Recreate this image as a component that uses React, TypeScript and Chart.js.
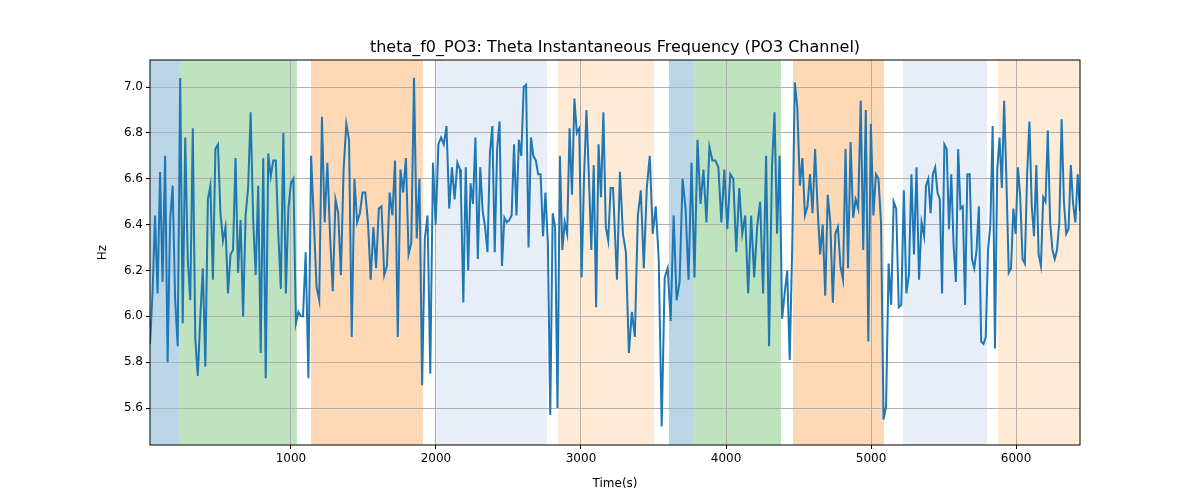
import React, { useEffect, useRef } from "react";
import { Chart, registerables } from "chart.js";
Chart.register(...registerables);

const seg1: number[] = [5.88,6.10,6.44,6.10,6.63,6.15,6.70,5.80,6.42,6.57,6.07,5.87,7.04,5.97,6.78,6.25,6.07,6.82,5.90,5.74,6.0,6.21,5.78,6.51,6.57,6.16,6.73,6.75,6.45,6.33,6.39,6.10,6.27,6.29,6.69,6.19,6.42,6.0,6.44,6.56,6.89,6.42,6.18,6.57,5.84,6.69,5.73,6.71,6.61,6.68,6.68,6.36,6.12,6.80,6.10,6.47,6.58,6.60,5.97,6.02,6.0];
const seg2: number[] = [6.0,6.28,5.73,6.70,6.42,6.13,6.07,6.87,6.41,6.67,6.35,6.11,6.51,6.45,6.18,6.64,6.84,6.77,5.91,6.60,6.41,6.45,6.54,6.54,6.41,6.16,6.39,6.21,6.47,6.48,6.18,6.22,6.54,6.44,6.68,5.91,6.64,6.54,6.69,6.27,6.32,7.04,6.34,6.60,5.70,6.34,6.44,5.75,6.67,6.40,6.75,6.78,6.75,6.83,6.47,6.65,6.51,6.67,6.64];
const seg3: number[] = [6.55,6.06,6.65,6.20,6.58,6.49,6.78,6.25,6.65,6.46,6.39,6.28,6.71,6.83,6.28,6.73,6.85,6.22,6.43,6.41,6.42,6.44,6.75,6.44,6.77,6.70,7.0,7.01,6.30,6.78,6.70,6.68,6.62,6.62,6.35,6.54,6.32,5.57,6.45,6.39,5.60,6.70,6.29,6.41,6.36,6.82,6.53,6.95,6.80,6.82,6.17,6.61,6.90,6.61,6.29,6.66,6.04,6.75,6.52,6.89,6.39,6.33,6.56,6.56];
const seg4: number[] = [6.16,6.63,6.36,6.28,5.84,6.02,5.91,6.44,6.55,6.21,6.56,6.70,6.36,6.48,6.25,5.52,6.17,6.21,5.98,6.44,6.07,6.15,6.60,6.47,6.16,6.67,6.17,6.77,6.49,6.64,6.41,6.74,6.68,6.68,6.65,6.41,6.64,6.38,6.62,6.60,6.28,6.56,6.36,6.44,6.10,6.44,6.17,6.39,6.50,6.10,6.70,5.87];
const seg5: number[] = [6.65,6.89,6.36,6.70,5.99,6.10,6.20,5.81,6.31,7.02,6.91,6.57,6.69,6.44,6.48,6.62,6.45,6.73,6.47,6.27,6.40,6.09,6.53,6.41,6.06,6.36,6.39,6.22,6.16,6.73,6.21,6.76,6.43,6.51,6.47,6.94,6.29,6.90,5.89,6.84,6.44,6.62,6.60,6.41,5.55,5.61,6.23,6.05,6.50,6.47,6.04,6.05,6.55,6.10,6.18,6.62,6.27,6.65,6.16,6.41,6.35];
const seg6: number[] = [6.57,6.60,6.45,6.62,6.65,6.54,6.51,6.10,6.75,6.73,6.38,6.62,6.31,6.15,6.73,6.47,6.48,6.05,6.62,6.62,6.25,6.21,6.29,6.48,5.89,5.88,5.91,6.29,6.40,6.83,5.86,6.64,6.78,6.56,6.94,6.59,6.19,6.21,6.47,6.36,6.65,6.52,6.25,6.23,6.62,6.85,6.48,6.35,6.66,6.27,6.22,6.52,6.50,6.81,6.41,6.29,6.25,6.29,6.41,6.86,6.50,6.36,6.38,6.66,6.49,6.41,6.62,6.46];
const segStart = [28, 1083, 2172, 3248, 4317, 5379];
const segEnd = [1069, 2166, 3221, 4297, 5366, 6441];
const segments = [seg1, seg2, seg3, seg4, seg5, seg6];

const bandStarts = [28, 228, 1138, 2000, 2841, 3607, 3772, 4462, 5221, 5876];
const bandEnds = [228, 1041, 1910, 2766, 3503, 3772, 4379, 5090, 5800, 6441];
const bandColors = [
  "rgba(31,119,180,0.3)", "rgba(44,160,44,0.3)", "rgba(255,127,14,0.3)", "rgba(174,199,232,0.3)", "rgba(255,187,120,0.3)",
  "rgba(31,119,180,0.3)", "rgba(44,160,44,0.3)", "rgba(255,127,14,0.3)", "rgba(174,199,232,0.3)", "rgba(255,187,120,0.3)",
];
const xTicks = [1000, 2000, 3000, 4000, 5000, 6000];
const yTicks = [5.6, 5.8, 6.0, 6.2, 6.4, 6.6, 6.8, 7.0];
const TITLE = "theta_f0_PO3: Theta Instantaneous Frequency (PO3 Channel)";

export default function App() {
  const ref = useRef<HTMLCanvasElement>(null);
  useEffect(() => {
    document.body.style.margin = "0";
    const points: { x: number; y: number }[] = [];
    segments.forEach((seg, k) => {
      seg.forEach((v, i) => {
        points.push({ x: segStart[k] + (i * (segEnd[k] - segStart[k])) / (seg.length - 1), y: v });
      });
    });
    const bands = {
      id: "bands",
      beforeDraw(chart: any) {
        const { ctx, chartArea, scales } = chart;
        ctx.save();
        for (let i = 0; i < bandStarts.length; i++) {
          const a = scales.x.getPixelForValue(bandStarts[i]);
          const b = scales.x.getPixelForValue(bandEnds[i]);
          ctx.fillStyle = bandColors[i];
          ctx.fillRect(a, chartArea.top, b - a, chartArea.bottom - chartArea.top);
        }
        ctx.restore();
      },
      afterDraw(chart: any) {
        const { ctx, chartArea } = chart;
        ctx.save();
        ctx.strokeStyle = "#000";
        ctx.lineWidth = 1;
        ctx.strokeRect(chartArea.left, chartArea.top, chartArea.right - chartArea.left, chartArea.bottom - chartArea.top);
        ctx.fillStyle = "#000";
        ctx.font = "16px 'DejaVu Sans'";
        ctx.textAlign = "center";
        ctx.textBaseline = "alphabetic";
        ctx.fillText(TITLE, (chartArea.left + chartArea.right) / 2, 52);
        ctx.restore();
      },
    };
    const chart = new Chart(ref.current!, {
      type: "line",
      data: {
        datasets: [{
          data: points,
          borderColor: "#1f77b4",
          borderWidth: 2,
          pointRadius: 0,
          tension: 0,
        }],
      },
      options: {
        animation: false,
        responsive: false,
        layout: { padding: { top: 60, right: 120, left: 96, bottom: 9 } },
        plugins: { legend: { display: false }, tooltip: { enabled: false } },
        scales: {
          x: {
            type: "linear", min: 28, max: 6441,
            afterBuildTicks: (s: any) => { s.ticks = xTicks.map((v) => ({ value: v })); },
            afterFit: (s: any) => { s.height = 46; },
            grid: { color: "#b0b0b0", tickLength: 4, tickColor: "#000" },
            border: { display: false },
            ticks: { color: "#000", font: { family: "DejaVu Sans", size: 12 }, maxRotation: 0, callback: (v: any) => String(v) },
            title: { display: true, text: "Time(s)", color: "#000", font: { family: "DejaVu Sans", size: 12 }, padding: { top: 0, bottom: 0 } },
          },
          y: {
            min: 5.439, max: 7.118,
            afterBuildTicks: (s: any) => { s.ticks = yTicks.map((v) => ({ value: v })); },
            afterFit: (s: any) => { s.width = 54; },
            grid: { color: "#b0b0b0", tickLength: 4, tickColor: "#000" },
            border: { display: false },
            ticks: { color: "#000", font: { family: "DejaVu Sans", size: 12 }, callback: (v: any) => Number(v).toFixed(1) },
            title: { display: true, text: "Hz", color: "#000", font: { family: "DejaVu Sans", size: 12 }, padding: 0 },
          },
        },
      },
      plugins: [bands],
    });
    return () => chart.destroy();
  }, []);
  return <canvas ref={ref} width={1200} height={500} style={{ display: "block" }} />;
}
